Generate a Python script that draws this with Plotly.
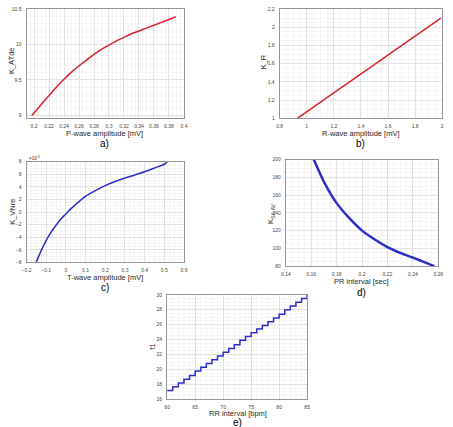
import plotly.graph_objects as go

# a) P-wave amplitude vs K_ATde
pa_x = [0.197, 0.21, 0.22, 0.23, 0.24, 0.25, 0.26, 0.27, 0.28, 0.29, 0.30,
        0.31, 0.32, 0.33, 0.34, 0.35, 0.36, 0.37, 0.38, 0.389]
pa_y = [9.00, 9.16, 9.28, 9.40, 9.51, 9.61, 9.70, 9.78, 9.86, 9.93, 9.99,
        10.05, 10.10, 10.15, 10.19, 10.23, 10.27, 10.31, 10.35, 10.39]
# b) R-wave amplitude vs K_R
rb_x = [0.93, 1.99]
rb_y = [1.00, 2.10]
# c) T-wave amplitude vs K_VNre (values in units of 1e-3)
tc_x = [-0.151, -0.125, -0.10, -0.075, -0.05, -0.025, 0.0, 0.025, 0.05, 0.075, 0.10,
        0.15, 0.20, 0.25, 0.30, 0.35, 0.40, 0.45, 0.50, 0.515]
tc_y = [-8.0, -6.1, -4.5, -3.2, -2.1, -1.1, -0.3, 0.5, 1.2, 1.9, 2.5,
        3.4, 4.2, 4.85, 5.4, 5.9, 6.4, 7.0, 7.6, 8.0]
# d) PR interval vs K_SA,AV
pd_x = [0.162, 0.17, 0.18, 0.19, 0.20, 0.21, 0.22, 0.23, 0.24, 0.25, 0.257]
pd_y = [200, 175, 151, 134, 120, 110, 101.5, 95, 89.5, 84, 80]
# e) RR interval vs f1
re_x = list(range(60, 86))
re_y = [17.2, 17.7, 18.2, 18.7, 19.2, 19.8, 20.3, 20.8, 21.3, 21.8, 22.3, 22.8, 23.3,
        23.9, 24.4, 24.9, 25.4, 25.9, 26.4, 26.9, 27.4, 28.0, 28.5, 29.0, 29.5, 30.0]

RED = "rgb(215,35,45)"
BLUE = "rgb(45,45,200)"
FONT = "Liberation Sans"

fig = go.Figure()
fig.add_trace(go.Scatter(x=pa_x, y=pa_y, mode="lines",
                         line=dict(color=RED, width=1.5, shape="spline", smoothing=0.8),
                         xaxis="x", yaxis="y"))
fig.add_trace(go.Scatter(x=rb_x, y=rb_y, mode="lines", line=dict(color=RED, width=1.5),
                         xaxis="x2", yaxis="y2"))
fig.add_trace(go.Scatter(x=tc_x, y=tc_y, mode="lines",
                         line=dict(color=BLUE, width=1.5, shape="spline", smoothing=0.8),
                         xaxis="x3", yaxis="y3"))
fig.add_trace(go.Scatter(x=pd_x, y=pd_y, mode="lines",
                         line=dict(color=BLUE, width=2.5, shape="spline", smoothing=0.8),
                         xaxis="x4", yaxis="y4"))
fig.add_trace(go.Scatter(x=re_x, y=re_y, mode="lines", line=dict(color=BLUE, width=1.5, shape="hv"),
                         xaxis="x5", yaxis="y5"))

def ax(domain, rng, dtick, anchor, minor_dtick, **kw):
    d = dict(domain=domain, range=rng, dtick=dtick, anchor=anchor,
             showgrid=True, gridcolor="rgb(226,226,226)", gridwidth=1,
             minor=dict(dtick=minor_dtick, showgrid=True, gridcolor="rgb(245,245,245)", ticks=""),
             showline=True, linecolor="rgb(150,150,150)", linewidth=1, mirror=True,
             ticks="", ticklabelstandoff=3,
             tickfont=dict(size=5, color="rgb(70,70,70)", family=FONT),
             zeroline=False)
    d.update(kw)
    return d

layout = dict(
    width=453, height=427, margin=dict(l=0, r=0, t=0, b=0),
    paper_bgcolor="white", plot_bgcolor="white", showlegend=False,
    xaxis=ax([0.0486, 0.404], [0.19, 0.4], 0.02, "y", 0.005),
    yaxis=ax([0.726, 0.986], [8.96, 10.5], 0.5, "x", 0.1),
    xaxis2=ax([0.620, 0.987], [0.8, 2.0], 0.2, "y2", 0.05),
    yaxis2=ax([0.726, 0.986], [1.0, 2.2], 0.2, "x2", 0.05),
    xaxis3=ax([0.0486, 0.404], [-0.2, 0.6], 0.1, "y3", 0.025),
    yaxis3=ax([0.384, 0.623], [-8, 8], 2, "x3", 0.5),
    xaxis4=ax([0.634, 0.978], [0.14, 0.26], 0.02, "y4", 0.005),
    yaxis4=ax([0.375, 0.628], [80, 200], 20, "x4", 5),
    xaxis5=ax([0.366, 0.682], [60, 85], 5, "y5", 1),
    yaxis5=ax([0.0585, 0.307], [16, 30], 2, "x5", 0.5),
)
fig.update_layout(**layout)

def ann(text, x, y, size=7.5, angle=0, color="rgb(40,40,40)", **kw):
    d = dict(text=text, x=x / 453, y=1 - y / 427, xref="paper", yref="paper",
             showarrow=False, textangle=angle, font=dict(size=size, color=color, family=FONT),
             xanchor="center", yanchor="middle")
    d.update(kw)
    fig.add_annotation(**d)

# axis titles
ann("P-wave amplitude [mV]", 102, 132)
ann("a)", 102, 143, size=10, color="black")
ann("K_ATde", 6, 58, angle=-90)
ann("R-wave amplitude [mV]", 364, 132)
ann("b)", 364, 143, size=10, color="black")
ann("K_R", 264, 60, angle=-90)
ann("T-wave amplitude [mV]", 102, 278)
ann("c)", 102, 289, size=10, color="black")
ann("K_VNre", 7, 212, angle=-90)
ann("×10<sup>-3</sup>", 23, 157, size=4.5, xanchor="left")
ann("PR interval [sec]", 365, 282)
ann("d)", 365, 294, size=10, color="black")
ann("K<sub>SA,AV</sub>", 272, 213, angle=-90)
ann("RR interval [bpm]", 238, 416)
ann("e)", 238, 425, size=10, color="black")
ann("f1", 150, 349, angle=-90)

fig.write_html("out.html")
